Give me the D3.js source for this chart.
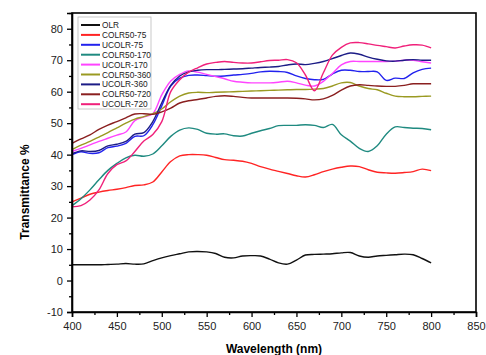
<!DOCTYPE html>
<html><head><meta charset="utf-8">
<script src="https://d3js.org/d3.v7.min.js"></script>
<style>body{margin:0;background:#fff}svg{display:block}</style>
</head><body>
<svg id="c" width="486" height="355"></svg>
<script>
const wavelengths = d3.range(400, 801, 10);
const seriesNames = ["OLR","COLR50-75","UCOLR-75","COLR50-170","UCOLR-170","COLR50-360","UCOLR-360","COLR50-720","UCOLR-720"];
const seriesColors = ["#111111","#ff2424","#2222ee","#1f8a80","#ff44ff","#9a9a22","#1c1c86","#8a1f1f","#f0207a"];
const OLR = [5.0,5.0,5.0,5.0,5.1,5.2,5.4,5.2,5.3,6.3,7.2,7.9,8.5,9.1,9.2,9.1,8.6,7.4,7.2,7.8,7.9,7.8,6.8,5.6,5.2,6.5,8.1,8.3,8.4,8.5,8.8,8.9,7.8,7.4,7.8,8.0,8.2,8.4,8.2,7.0,5.6];
const COLR50_75 = [25.0,26.2,27.4,28.1,28.6,29.0,29.5,30.2,30.4,31.3,34.5,37.8,39.6,40.0,40.0,39.8,39.1,38.4,38.2,37.9,37.2,36.2,35.4,34.7,34.0,33.3,32.9,33.6,34.6,35.4,36.0,36.4,36.2,35.2,34.4,34.2,34.1,34.3,34.6,35.4,34.9];
const UCOLR_75 = [40.0,40.9,40.4,40.6,42.2,42.7,43.6,45.8,46.0,49.5,55.5,61.8,64.3,65.2,65.3,65.1,64.9,65.0,65.3,65.5,65.8,66.3,66.5,66.4,66.1,65.0,64.2,63.8,63.9,65.6,66.8,66.8,66.4,66.4,66.3,63.6,64.3,64.2,66.0,67.1,67.5];
const COLR50_170 = [23.8,26.0,28.8,32.0,35.0,37.2,39.0,39.8,39.5,40.2,42.8,45.8,47.8,48.5,48.0,46.8,46.5,46.6,46.0,45.9,46.8,47.6,48.3,49.2,49.3,49.3,49.5,49.3,48.6,49.6,46.3,44.3,42.0,41.0,42.8,46.5,48.8,48.6,48.4,48.3,47.9];
const UCOLR_170 = [41.0,42.0,43.1,44.2,45.2,46.2,47.2,50.8,52.0,53.0,59.0,63.4,65.5,66.6,66.2,65.5,64.8,64.1,63.3,63.0,62.8,62.8,62.8,63.0,63.3,62.8,62.1,61.8,63.3,65.8,68.5,69.6,69.6,69.6,69.6,69.6,69.7,70.0,70.0,69.5,69.1];
const COLR50_360 = [41.6,43.0,44.2,45.6,47.0,48.5,50.0,51.3,52.1,53.0,54.5,56.8,58.6,59.6,59.8,59.7,59.8,59.9,60.0,60.1,60.2,60.3,60.4,60.5,60.6,60.7,60.7,60.8,61.0,61.8,62.8,62.9,61.8,61.0,60.6,59.5,58.6,58.4,58.4,58.5,58.6];
const UCOLR_360 = [40.3,41.2,41.0,41.3,42.8,43.3,44.2,46.5,47.0,50.5,56.5,62.0,65.0,66.3,66.8,67.0,67.0,67.1,67.2,67.3,67.5,67.7,67.8,68.0,68.5,68.8,68.6,69.0,69.6,70.5,71.5,72.3,71.9,71.0,70.3,69.8,69.7,70.0,70.2,70.0,70.0];
const COLR50_720 = [43.6,45.0,46.3,48.0,49.4,50.5,51.7,52.9,53.0,52.8,53.6,54.8,56.4,57.1,57.5,58.0,58.5,58.7,58.5,58.2,58.0,58.0,58.0,58.0,58.0,57.9,57.7,57.4,57.7,58.8,60.5,61.8,62.2,62.0,61.8,61.7,61.7,62.0,62.5,62.5,62.5];
const UCOLR_720 = [23.4,23.8,25.6,28.8,34.0,36.8,38.0,41.0,44.3,46.4,50.5,60.0,63.8,66.2,67.6,68.8,69.3,69.6,69.3,69.1,69.1,69.5,69.9,70.0,70.2,69.2,65.3,60.3,66.0,71.6,74.1,75.5,75.6,75.2,74.7,74.3,73.9,74.5,74.9,74.8,73.9];
const xTicks = [400,450,500,550,600,650,700,750,800,850];
const yTicks = [-10,0,10,20,30,40,50,60,70,80];

const allValues = [OLR,COLR50_75,UCOLR_75,COLR50_170,UCOLR_170,COLR50_360,UCOLR_360,COLR50_720,UCOLR_720];
const series = seriesNames.map((n,i)=>({name:n,color:seriesColors[i],values:allValues[i]}));

const svg = d3.select("#c");
const L=72,R=476,T=13,B=312;
const x = d3.scaleLinear().domain([400,850]).range([L,R]);
const y = d3.scaleLinear().domain([-10,85]).range([B,T]);
const font = "Liberation Sans, Arial, sans-serif";

const line = d3.line().x((d,i)=>x(wavelengths[i])).y(d=>y(d)).curve(d3.curveCatmullRom.alpha(0.5));
svg.append("g").selectAll("path").data(series).join("path")
  .attr("d",d=>line(d.values)).attr("fill","none")
  .attr("stroke",d=>d.color).attr("stroke-width",1.4).attr("stroke-linejoin","round");

// frame
svg.append("rect").attr("x",L).attr("y",T).attr("width",R-L).attr("height",B-T)
  .attr("fill","none").attr("stroke","#000").attr("stroke-width",1.6);

// x axis
const xa = svg.append("g").attr("transform",`translate(0,${B})`)
  .call(d3.axisBottom(x).tickValues(xTicks).tickSize(5).tickFormat(d=>String(d)));
svg.append("g").attr("transform",`translate(0,${B})`)
  .call(d3.axisBottom(x).tickValues(d3.range(425,850,50)).tickSize(3).tickFormat(""))
  .call(g=>g.select(".domain").remove());
// y axis
const ya = svg.append("g").attr("transform",`translate(${L},0)`)
  .call(d3.axisLeft(y).tickValues(yTicks).tickSize(5).tickFormat(d=>String(d)));
svg.append("g").attr("transform",`translate(${L},0)`)
  .call(d3.axisLeft(y).tickValues(d3.range(-5,86,10)).tickSize(3).tickFormat(""))
  .call(g=>g.select(".domain").remove());
svg.selectAll(".domain").attr("stroke","#000").attr("stroke-width",1.6);
svg.selectAll(".tick line").attr("stroke","#000").attr("stroke-width",1.3);
svg.selectAll(".tick text").attr("font-family",font).attr("font-size",11).attr("fill","#222");
xa.selectAll(".tick text").attr("dy","0.9em");
ya.selectAll(".tick text").attr("dx","-0.1em");

// titles
svg.append("text").attr("x",(L+R)/2).attr("y",353).attr("text-anchor","middle")
  .attr("font-family",font).attr("font-weight","bold").attr("font-size",12).text("Wavelength (nm)");
svg.append("text").attr("transform","translate(29,192) rotate(-90)").attr("text-anchor","middle")
  .attr("font-family",font).attr("font-weight","bold").attr("font-size",12).text("Transmittance %");

// legend
const lg = svg.append("g");
lg.append("rect").attr("x",78).attr("y",17).attr("width",73).attr("height",92)
  .attr("fill","#fff").attr("stroke","#bbb").attr("stroke-width",0.8);
const items = lg.selectAll("g.it").data(series).join("g").attr("class","it")
  .attr("transform",(d,i)=>`translate(0,${25+i*9.9})`);
items.append("line").attr("x1",81).attr("x2",100).attr("stroke",d=>d.color).attr("stroke-width",2);
items.append("text").attr("x",102).attr("y",3).attr("font-family",font).attr("font-size",8.3)
  .attr("fill","#222").text(d=>d.name);
</script>
</body></html>
